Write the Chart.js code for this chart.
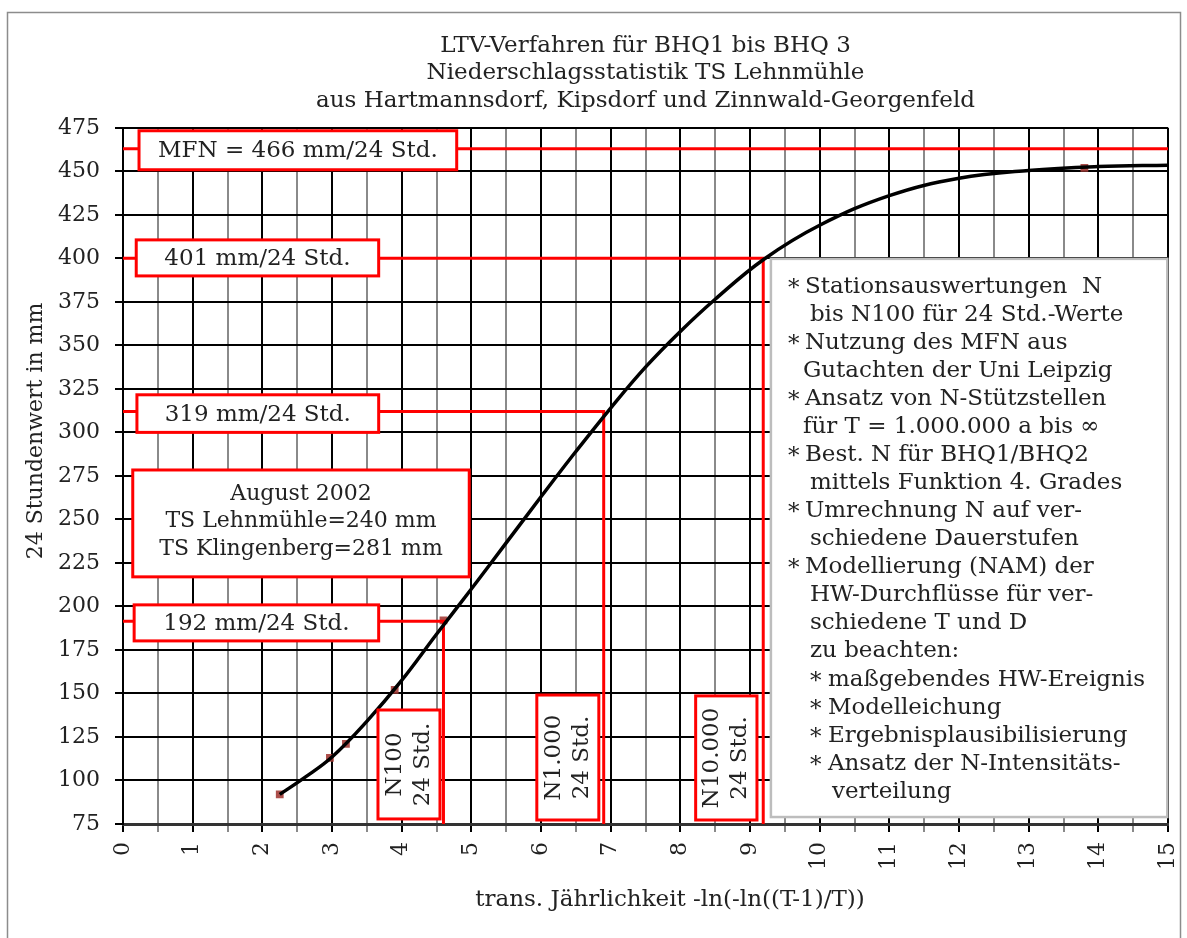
<!DOCTYPE html>
<html>
<head>
<meta charset="utf-8">
<title>LTV-Verfahren BHQ</title>
<script src="https://cdn.jsdelivr.net/npm/chart.js@4.4.1/dist/chart.umd.min.js"></script>
<style>
  body { margin: 0; background: #fff; }
  canvas { display: block; }
</style>
</head>
<body>
<canvas id="lehnmuehle" width="1187" height="938"></canvas>
<script>
// Daten
var kurveX = [2.25, 2.6, 3.0, 3.5, 4.0, 4.5, 5.0, 5.5, 6.0, 6.5, 7.0, 7.5, 8.0, 8.5, 9.2, 10.0, 11.0, 12.0, 13.0, 14.0, 15.0];
var kurveY = [92, 101.5, 113.5, 134, 157.5, 184, 210, 236.5, 263, 289, 314, 337.5, 358, 376.5, 399.5, 419, 436, 446, 450.5, 452.7, 453.5];

var stationX = [2.25, 2.97, 3.2, 3.9, 4.6, 13.8];
var stationY = [92, 113, 121, 152, 192, 452];

var mfnY = 463;
var markX = [4.6, 6.9, 9.19];
var markY = [191.5, 312, 400];
var markText = ['192 mm/24 Std.', '319 mm/24 Std.', '401 mm/24 Std.'];
var nText = [['N100', '24 Std.'], ['N1.000', '24 Std.'], ['N10.000', '24 Std.']];

var titel = ['LTV-Verfahren für BHQ1 bis BHQ 3', 'Niederschlagsstatistik TS Lehnmühle', 'aus Hartmannsdorf, Kipsdorf und Zinnwald-Georgenfeld'];
var xTitel = 'trans. Jährlichkeit -ln(-ln((T-1)/T))';
var yTitel = '24 Stundenwert in mm';
var augustText = ['August 2002', 'TS Lehnmühle=240 mm', 'TS Klingenberg=281 mm'];
// [Stern-Einzug, Text-Einzug, Text] in px ab Kastenrand
var notizText = [
    [17, 34, 'Stationsauswertungen  N'],
    [null, 39, 'bis N100 für 24 Std.-Werte'],
    [17, 34, 'Nutzung des MFN aus'],
    [null, 32, 'Gutachten der Uni Leipzig'],
    [17, 34, 'Ansatz von N-Stützstellen'],
    [null, 32, 'für T = 1.000.000 a bis ∞'],
    [17, 34, 'Best. N für BHQ1/BHQ2'],
    [null, 39, 'mittels Funktion 4. Grades'],
    [17, 34, 'Umrechnung N auf ver-'],
    [null, 39, 'schiedene Dauerstufen'],
    [17, 34, 'Modellierung (NAM) der'],
    [null, 39, 'HW-Durchflüsse für ver-'],
    [null, 39, 'schiedene T und D'],
    [null, 39, 'zu beachten:'],
    [39, 57, 'maßgebendes HW-Ereignis'],
    [39, 57, 'Modelleichung'],
    [39, 57, 'Ergebnisplausibilisierung'],
    [39, 57, 'Ansatz der N-Intensitäts-'],
    [null, 61, 'verteilung']
];

var FONT = 'DejaVu Serif';
var ROT = '#ff0000';

// Kastenpositionen in Achsenwerten [x0, yOben, x1, yUnten]
var mfnBox = [0.23, 473.3, 4.79, 450.9];
var markBox = [[0.16, 200.9, 3.67, 180.2], [0.2, 321.6, 3.67, 300], [0.19, 410.6, 3.67, 389.9]];
var nBox = [[3.66, 140.5, 4.55, 77.9], [5.94, 149.1, 6.83, 77.3], [8.22, 148.6, 9.1, 77.3]];
var augustBox = [0.14, 278.4, 4.97, 217];
var notizBox = [9.3, 399.7, 14.99, 79];

function xy(xs, ys) {
    return xs.map(function (x, i) { return { x: x, y: ys[i] }; });
}

var datasets = [{
    label: 'N-Kurve',
    data: xy(kurveX, kurveY),
    showLine: true,
    borderColor: '#000',
    borderWidth: 3.5,
    pointRadius: 0,
    tension: 0.4,
    order: 0
}, {
    label: 'Stationswerte',
    data: xy(stationX, stationY),
    pointStyle: 'rect',
    pointRadius: 5.5,
    backgroundColor: 'rgba(163,60,55,0.9)',
    borderWidth: 0,
    order: 2
}, {
    label: 'MFN',
    data: [{ x: 0, y: mfnY }, { x: 15, y: mfnY }],
    showLine: true,
    borderColor: ROT,
    borderWidth: 3,
    pointRadius: 0,
    order: 1
}];

markX.forEach(function (mx, i) {
    datasets.push({
        label: markText[i],
        data: [{ x: 0, y: markY[i] }, { x: mx, y: markY[i] }, { x: mx, y: 75 }],
        showLine: true,
        borderColor: ROT,
        borderWidth: 3,
        pointRadius: 0,
        order: 1
    });
});

function kasten(ctx, x0, y0, x1, y1, farbe, breite) {
    ctx.fillStyle = '#fff';
    ctx.fillRect(x0, y0, x1 - x0, y1 - y0);
    ctx.strokeStyle = farbe;
    ctx.lineWidth = breite;
    ctx.strokeRect(x0, y0, x1 - x0, y1 - y0);
}

var beschriftung = {
    id: 'beschriftung',
    afterDatasetsDraw: function (chart) {
        var ctx = chart.ctx;
        var sx = chart.scales.x, sy = chart.scales.y;
        function r(b) {
            return [sx.getPixelForValue(b[0]), sy.getPixelForValue(b[1]), sx.getPixelForValue(b[2]), sy.getPixelForValue(b[3])];
        }
        ctx.save();
        ctx.font = '23px "' + FONT + '"';
        ctx.textAlign = 'center';
        ctx.textBaseline = 'middle';

        // MFN und Werte-Kaesten
        var b = r(mfnBox);
        kasten(ctx, b[0], b[1], b[2], b[3], ROT, 3);
        ctx.fillStyle = '#222';
        ctx.fillText('MFN = 466 mm/24 Std.', (b[0] + b[2]) / 2, (b[1] + b[3]) / 2 + 1);

        markBox.forEach(function (mb, i) {
            var p = r(mb);
            kasten(ctx, p[0], p[1], p[2], p[3], ROT, 3);
            ctx.fillStyle = '#222';
            ctx.fillText(markText[i], (p[0] + p[2]) / 2, (p[1] + p[3]) / 2 + 1);
        });

        // August 2002
        b = r(augustBox);
        kasten(ctx, b[0], b[1], b[2], b[3], ROT, 3);
        ctx.fillStyle = '#222';
        ctx.font = '22px "' + FONT + '"';
        augustText.forEach(function (t, i) {
            ctx.fillText(t, (b[0] + b[2]) / 2, (b[1] + b[3]) / 2 - 2 + (i - 1) * 27.5);
        });

        // N100 / N1.000 / N10.000 senkrecht
        ctx.font = '23px "' + FONT + '"';
        nBox.forEach(function (nb, i) {
            var p = r(nb);
            kasten(ctx, p[0], p[1], p[2], p[3], ROT, 3);
            ctx.save();
            ctx.translate((p[0] + p[2]) / 2, (p[1] + p[3]) / 2);
            ctx.rotate(-Math.PI / 2);
            ctx.fillStyle = '#222';
            ctx.fillText(nText[i][0], 0, -14);
            ctx.fillText(nText[i][1], 0, 14);
            ctx.restore();
        });

        // Hinweiskasten rechts
        b = r(notizBox);
        kasten(ctx, b[0], b[1], b[2], b[3], '#bdbdbd', 2.5);
        ctx.fillStyle = '#222';
        ctx.textAlign = 'left';
        notizText.forEach(function (z, i) {
            var y = b[1] + 28 + i * 28.05;
            if (z[0] !== null) ctx.fillText('*', b[0] + z[0], y + 2);
            ctx.fillText(z[2], b[0] + z[1], y);
        });
        ctx.restore();
    },
    afterDraw: function (chart) {
        var ctx = chart.ctx;
        ctx.save();
        ctx.fillStyle = '#222';
        ctx.textAlign = 'center';
        ctx.textBaseline = 'middle';
        ctx.font = '23px "' + FONT + '"';
        ctx.fillText(xTitel, 670, 900);
        ctx.font = '22px "' + FONT + '"';
        ctx.translate(36, 431);
        ctx.rotate(-Math.PI / 2);
        ctx.fillText(yTitel, 0, 0);
        ctx.restore();

        // Rahmen
        ctx.save();
        ctx.strokeStyle = '#8c8c8c';
        ctx.lineWidth = 1.5;
        ctx.strokeRect(7.5, 12.5, 1173, 960);
        ctx.restore();
    }
};

var ctx = document.getElementById('lehnmuehle');

var chart = new Chart(ctx, {
    type: 'scatter',
    data: { datasets: datasets },
    plugins: [beschriftung],
    options: {
        responsive: false,
        animation: false,
        devicePixelRatio: 1,
        layout: { padding: { top: 12, left: 0, right: 19, bottom: 0 } },
        plugins: {
            legend: { display: false },
            tooltip: { enabled: false },
            title: {
                display: true,
                text: titel,
                color: '#222',
                fullSize: false,
                font: { family: FONT, size: 23, weight: 'normal', lineHeight: 1.2 },
                padding: { top: 20, bottom: 13 }
            }
        },
        scales: {
            x: {
                type: 'linear',
                min: 0,
                max: 15,
                afterFit: function (s) {
                    s.height = 114;
                    s.paddingLeft = 0;
                    s.paddingRight = 0;
                },
                ticks: {
                    stepSize: 0.5,
                    autoSkip: false,
                    minRotation: 90,
                    maxRotation: 90,
                    padding: 10,
                    color: '#222',
                    font: { family: FONT, size: 22 },
                    callback: function (v) { return Number.isInteger(v) ? v : ''; }
                },
                grid: {
                    color: function (c) { return Number.isInteger(c.tick.value) ? '#000' : '#8a8a8a'; },
                    lineWidth: 2,
                    tickLength: 8
                },
                border: { color: '#333', width: 3 }
            },
            y: {
                min: 75,
                max: 475,
                afterFit: function (s) {
                    s.width = 123;
                    s.paddingTop = 0;
                    s.paddingBottom = 0;
                },
                ticks: {
                    stepSize: 25,
                    autoSkip: false,
                    padding: 15,
                    color: '#222',
                    font: { family: FONT, size: 22 }
                },
                grid: { color: '#000', lineWidth: 2, tickLength: 8 },
                border: { color: '#000', width: 2 }
            }
        }
    }
});
</script>
</body>
</html>
